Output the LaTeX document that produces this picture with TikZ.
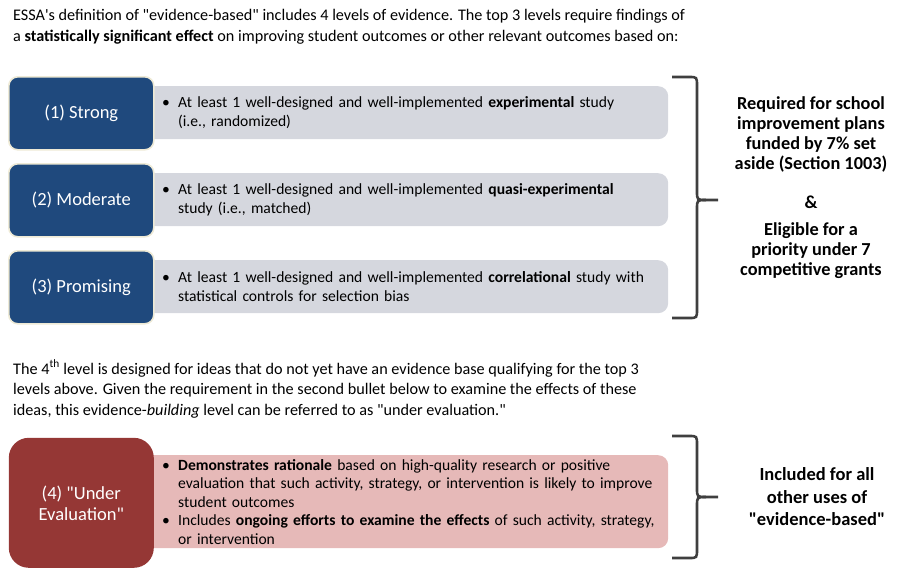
\documentclass[tikz,border=0pt]{standalone}
\usepackage{fontspec}
\setmainfont{Carlito}[Ligatures=TeXOff]
\usetikzlibrary{positioning}
\usepackage{xcolor}
\definecolor{essaBlue}{HTML}{1F497D}
\definecolor{essaRim}{HTML}{EEEAD6}
\definecolor{essaGray}{HTML}{D5D7DE}
\definecolor{essaRed}{HTML}{953735}
\definecolor{essaPink}{HTML}{E6B9B8}
\definecolor{essaBrace}{HTML}{3F3F3F}
\newcommand\bul{\hspace*{11pt}\makebox[16pt][l]{\textbullet}}
\newcommand\hang{\hspace*{27pt}}
\hyphenpenalty=10000

\begin{document}
\begin{tikzpicture}[x=1pt,y=-1pt,
  level/.style={draw=essaRim,line width=1.6pt,fill=essaBlue,rounded corners=9pt,text=white,
    minimum width=145pt,minimum height=73pt,anchor=north west,align=center,font=\fontsize{18.5}{21}\selectfont},
  detail/.style={fill=essaGray,rounded corners=10pt,minimum width=528pt,minimum height=53pt,anchor=north west,
    inner xsep=11pt,text width=506pt,align=left,font=\fontsize{15.6}{19}\selectfont},
  para/.style={anchor=base west,inner sep=0pt,font=\fontsize{16.2}{20}\selectfont},
  claim/.style={align=center,font=\bfseries\fontsize{18.3}{20}\selectfont},
  brace/.style={draw=essaBrace,line width=2.6pt}]
\useasboundingbox (0,0) rectangle (906,579);

% intro text
\node[para] (intro1) at (13,20) {ESSA's definition of "evidence-based" includes 4 levels of evidence. The top 3 levels require findings of};
\node[para] (intro2) at (13,41) {a \textbf{statistically significant effect} on improving student outcomes or other relevant outcomes based on:};

% top 3 levels
\node[detail] (d1) at (140,86) {\bul At least 1 well-designed and well-implemented \textbf{experimental} study\\\hang(i.e., randomized)};
\node[detail] (d2) at (140,173) {\bul At least 1 well-designed and well-implemented \textbf{quasi-experimental}\\\hang study (i.e., matched)};
\node[detail] (d3) at (140,260) {\bul At least 1 well-designed and well-implemented \textbf{correlational} study with\\\hang statistical controls for selection bias};
\node[level] (strong) at (8,76) {(1) Strong};
\node[level] (moderate) at (8,163) {(2) Moderate};
\node[level] (promising) at (8,250) {(3) Promising};

\draw[brace] (672,77) -- (689,77) .. controls (697,77) .. (697,86) -- (697,191) .. controls (697,200) .. (706,200) -- (718,200);
\draw[brace] (672,318) -- (689,318) .. controls (697,318) .. (697,309) -- (697,209) .. controls (697,200) .. (706,200);

\node[claim] (required) at (811,134) {Required for school\\improvement plans\\funded by 7\% set\\aside (Section 1003)};
\node[claim] (amp) at (811,202) {\&};
\node[claim] (eligible) at (811,251) {Eligible for a\\priority under 7\\competitive grants};

% 4th level
\node[para] (note1) at (13,374) {The 4\textsuperscript{th} level is designed for ideas that do not yet have an evidence base qualifying for the top 3};
\node[para] (note2) at (13,394) {levels above. Given the requirement in the second bullet below to examine the effects of these};
\node[para] (note3) at (13,415) {ideas, this evidence-\textit{building} level can be referred to as "under evaluation."};

\node[detail,fill=essaPink,minimum height=93pt,font=\fontsize{15.6}{18.5}\selectfont] (d4) at (140,455)
  {\bul\textbf{Demonstrates rationale} based on high-quality research or positive\\
   \hang evaluation that such activity, strategy, or intervention is likely to improve\\
   \hang student outcomes\\
   \bul Includes \textbf{ongoing efforts to examine the effects} of such activity, strategy,\\
   \hang or intervention};
\node[level,draw=none,fill=essaRed,rounded corners=20pt,minimum height=130pt] (underEval) at (8,437) {(4) "Under\\Evaluation"};

\draw[brace] (672,436) -- (689,436) .. controls (697,436) .. (697,445) -- (697,488) .. controls (697,497) .. (706,497) -- (718,497);
\draw[brace] (672,558) -- (689,558) .. controls (697,558) .. (697,549) -- (697,506) .. controls (697,497) .. (706,497);

\node[claim,font=\bfseries\fontsize{18.5}{22.5}\selectfont] (included) at (817,497) {Included for all\\other uses of\\"evidence-based"};
\end{tikzpicture}
\end{document}
